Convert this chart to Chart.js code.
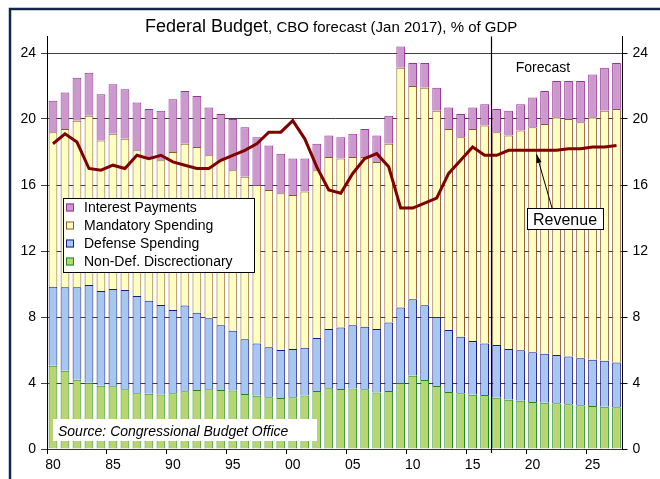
<!DOCTYPE html>
<html>
<head>
<meta charset="utf-8">
<script src="https://cdn.jsdelivr.net/npm/chart.js@4/dist/chart.umd.min.js"></script>
<style>
  html, body { margin: 0; padding: 0; background: #fff; }
  canvas { display: block; }
</style>
</head>
<body>
<canvas id="budget" width="660" height="479"></canvas>
<script>
// Fiscal years 1980-2027 (CBO baseline from 2017 on)
const years = [1980, 1981, 1982, 1983, 1984, 1985, 1986, 1987, 1988, 1989,
  1990, 1991, 1992, 1993, 1994, 1995, 1996, 1997, 1998, 1999,
  2000, 2001, 2002, 2003, 2004, 2005, 2006, 2007, 2008, 2009,
  2010, 2011, 2012, 2013, 2014, 2015, 2016, 2017, 2018, 2019,
  2020, 2021, 2022, 2023, 2024, 2025, 2026, 2027];

// % of GDP
const nonDefense = [5.05, 4.75, 4.2, 4.02, 3.84, 3.8, 3.62, 3.38, 3.35, 3.31,
  3.38, 3.5, 3.58, 3.62, 3.58, 3.54, 3.33, 3.23, 3.13, 3.09,
  3.13, 3.25, 3.52, 3.68, 3.64, 3.66, 3.62, 3.43, 3.52, 4.0,
  4.44, 4.18, 3.82, 3.45, 3.38, 3.29, 3.27, 3.11, 2.99, 2.93,
  2.85, 2.81, 2.77, 2.71, 2.65, 2.61, 2.56, 2.53];
const defense = [4.79, 5.05, 5.6, 5.92, 5.74, 5.9, 6.02, 5.89, 5.64, 5.42,
  5.04, 5.19, 4.68, 4.3, 3.92, 3.63, 3.32, 3.17, 3.03, 2.91,
  2.93, 2.89, 3.21, 3.59, 3.73, 3.84, 3.79, 3.84, 4.14, 4.57,
  4.63, 4.53, 4.16, 3.76, 3.43, 3.26, 3.13, 3.19, 3.07, 3.05,
  3.01, 2.97, 2.93, 2.89, 2.85, 2.8, 2.79, 2.72];
const mandatory = [9.36, 9.6, 10.1, 10.26, 9.12, 9.4, 9.16, 8.83, 8.71, 8.77,
  9.58, 9.81, 10.04, 9.88, 10.0, 9.73, 9.85, 9.6, 9.54, 9.5,
  9.34, 9.46, 10.17, 10.43, 10.23, 10.2, 10.29, 10.13, 10.84, 14.53,
  12.93, 13.19, 12.52, 12.19, 12.09, 12.85, 13.2, 12.9, 12.94, 13.32,
  13.64, 13.92, 14.4, 14.4, 14.3, 14.69, 15.15, 15.35];
const interest = [1.9, 2.2, 2.6, 2.6, 2.8, 3.0, 3.0, 2.9, 2.9, 3.0,
  3.2, 3.2, 3.1, 2.9, 2.8, 3.1, 3.0, 2.9, 2.7, 2.4,
  2.2, 2.0, 1.6, 1.3, 1.3, 1.4, 1.7, 1.6, 1.7, 1.3,
  1.4, 1.5, 1.4, 1.3, 1.4, 1.3, 1.3, 1.4, 1.5, 1.6,
  1.8, 2.0, 2.2, 2.3, 2.5, 2.6, 2.6, 2.8];
const revenue = [18.5, 19.1, 18.6, 17.0, 16.9, 17.2, 17.0, 17.8, 17.6, 17.8,
  17.4, 17.2, 17.0, 17.0, 17.5, 17.8, 18.1, 18.5, 19.2, 19.2,
  19.9, 18.8, 17.1, 15.7, 15.5, 16.7, 17.6, 17.9, 17.1, 14.6,
  14.6, 14.9, 15.2, 16.7, 17.5, 18.3, 17.8, 17.8, 18.1, 18.1,
  18.1, 18.1, 18.1, 18.2, 18.2, 18.3, 18.3, 18.4];

const yTicks = [0, 4, 8, 12, 16, 20, 24];
const forecastStart = 2017;
const arrowYear = 2020;

const FONT = '"Liberation Sans", Arial, sans-serif';

// Title, frame and the boxes drawn straight on the canvas
const decorations = {
  id: "decorations",
  afterDatasetsDraw(chart) {
    const { ctx, chartArea, scales } = chart;
    const x = scales.x;
    const y = scales.y;
    ctx.save();

    // forecast divider
    const fi = years.indexOf(forecastStart);
    const fx = Math.round((x.getPixelForValue(fi - 1) + x.getPixelForValue(fi)) / 2) + 0.5;
    ctx.strokeStyle = "#000";
    ctx.lineWidth = 1.2;
    ctx.beginPath();
    ctx.moveTo(fx, chartArea.top);
    ctx.lineTo(fx, chartArea.bottom + 4);
    ctx.stroke();

    ctx.fillStyle = "#000";
    ctx.font = "14px " + FONT;
    ctx.textAlign = "center";
    ctx.textBaseline = "alphabetic";
    ctx.fillText("Forecast", 543, 72);

    // revenue label with arrow
    const ai = years.indexOf(arrowYear);
    const tipX = x.getPixelForValue(ai) + 4;
    const tipY = y.getPixelForValue(revenue[ai]) + 4;
    const baseX = 552, baseY = 208;
    ctx.strokeStyle = "#000";
    ctx.lineWidth = 1;
    ctx.beginPath();
    ctx.moveTo(baseX, baseY);
    ctx.lineTo(tipX, tipY);
    ctx.stroke();
    const ang = Math.atan2(tipY - baseY, tipX - baseX);
    ctx.beginPath();
    ctx.moveTo(tipX, tipY);
    ctx.lineTo(tipX - 9 * Math.cos(ang - 0.3), tipY - 9 * Math.sin(ang - 0.3));
    ctx.lineTo(tipX - 9 * Math.cos(ang + 0.3), tipY - 9 * Math.sin(ang + 0.3));
    ctx.closePath();
    ctx.fill();

    ctx.fillStyle = "#fff";
    ctx.fillRect(527, 208, 76, 21);
    ctx.strokeRect(527.5, 208.5, 76, 21);
    ctx.fillStyle = "#000";
    ctx.font = "16px " + FONT;
    ctx.fillText("Revenue", 565, 225);

    // source note
    ctx.fillStyle = "#fff";
    ctx.fillRect(53, 419, 264, 22);
    ctx.fillStyle = "#000";
    ctx.font = "italic 14px " + FONT;
    ctx.textAlign = "left";
    ctx.fillText("Source: Congressional Budget Office", 58, 436);

    // legend, top series first
    ctx.fillStyle = "#fff";
    ctx.fillRect(63, 198, 191, 74);
    ctx.strokeStyle = "#000";
    ctx.strokeRect(63.5, 198.5, 191, 74);
    const bars = chart.data.datasets.filter(d => d.type !== "line").reverse();
    ctx.font = "14px " + FONT;
    ctx.textBaseline = "middle";
    bars.forEach((d, i) => {
      const ry = 207.5 + i * 18;
      ctx.fillStyle = d.backgroundColor;
      ctx.fillRect(66, ry - 4, 8, 8);
      ctx.strokeStyle = d.borderColor;
      ctx.lineWidth = 1;
      ctx.strokeRect(66.5, ry - 3.5, 7, 7);
      ctx.fillStyle = "#000";
      ctx.fillText(d.label, 84, ry + 1);
    });
    ctx.restore();
  },
  afterDraw(chart) {
    const { ctx } = chart;
    ctx.save();
    ctx.fillStyle = "#000";
    ctx.textBaseline = "alphabetic";
    ctx.textAlign = "left";
    ctx.font = "18px " + FONT;
    const head = "Federal Budget";
    ctx.fillText(head, 145, 32);
    const w = ctx.measureText(head).width;
    ctx.font = "15px " + FONT;
    ctx.fillText(", CBO forecast (Jan 2017), % of GDP", 145 + w, 32);

    // outer frame, cut off on the right and bottom
    ctx.strokeStyle = "#10284a";
    ctx.lineWidth = 2.5;
    ctx.beginPath();
    ctx.moveTo(10, 485);
    ctx.lineTo(10, 9);
    ctx.lineTo(665, 9);
    ctx.stroke();
    ctx.restore();
  }
};

function barSet(label, data, fill, edge) {
  return {
    type: "bar",
    label: label,
    data: data,
    backgroundColor: fill,
    borderColor: edge,
    borderWidth: 1,
    stack: "spend",
    order: 1
  };
}

const keepTicks = scale => {
  scale.ticks = scale.ticks.filter(t => yTicks.includes(t.value));
};

new Chart(document.getElementById("budget"), {
  data: {
    labels: years,
    datasets: [
      {
        type: "line",
        label: "Revenue",
        data: revenue,
        borderColor: "#800000",
        borderWidth: 3,
        pointRadius: 0,
        tension: 0,
        stack: "rev",
        order: 0
      },
      barSet("Non-Def. Discrectionary", nonDefense, "#b7d672", "#1e8a1e"),
      barSet("Defense Spending", defense, "#a6c8f0", "#1a1a8c"),
      barSet("Mandatory Spending", mandatory, "#ffffc2", "#8c5a2a"),
      barSet("Interest Payments", interest, "#cc99cc", "#993399")
    ]
  },
  options: {
    responsive: false,
    animation: false,
    devicePixelRatio: 1,
    layout: { padding: { top: 36.5, left: 0, right: 0, bottom: 0 } },
    datasets: { bar: { categoryPercentage: 1, barPercentage: 0.73 } },
    plugins: { legend: { display: false }, tooltip: { enabled: false } },
    scales: {
      x: {
        stacked: true,
        afterFit: s => { s.height = 30; },
        grid: {
          offset: true,
          drawOnChartArea: false,
          tickLength: 5,
          color: c => (years[c.index] % 5 === 0 ? "#000" : "rgba(0,0,0,0)")
        },
        border: { color: "#333", width: 1 },
        ticks: {
          autoSkip: false,
          maxRotation: 0,
          padding: 3,
          color: "#000",
          font: { family: FONT, size: 14 },
          callback: (v, i) => (years[i] % 5 === 0 ? String(years[i]).slice(2) : "")
        }
      },
      y: {
        position: "left",
        stacked: true,
        min: 0,
        max: 25,
        afterFit: s => { s.width = 47; },
        afterBuildTicks: keepTicks,
        grid: { color: "#404040", tickLength: 6 },
        border: { color: "#000", width: 1 },
        ticks: { stepSize: 4, padding: 5, color: "#000", font: { family: FONT, size: 14 } }
      },
      y2: {
        position: "right",
        min: 0,
        max: 25,
        afterFit: s => { s.width = 37.5; },
        afterBuildTicks: keepTicks,
        grid: { drawOnChartArea: false, color: "#000", tickLength: 5 },
        border: { color: "#000", width: 1 },
        ticks: { stepSize: 4, padding: 5, color: "#000", font: { family: FONT, size: 14 } }
      }
    }
  },
  plugins: [decorations]
});
</script>
</body>
</html>
